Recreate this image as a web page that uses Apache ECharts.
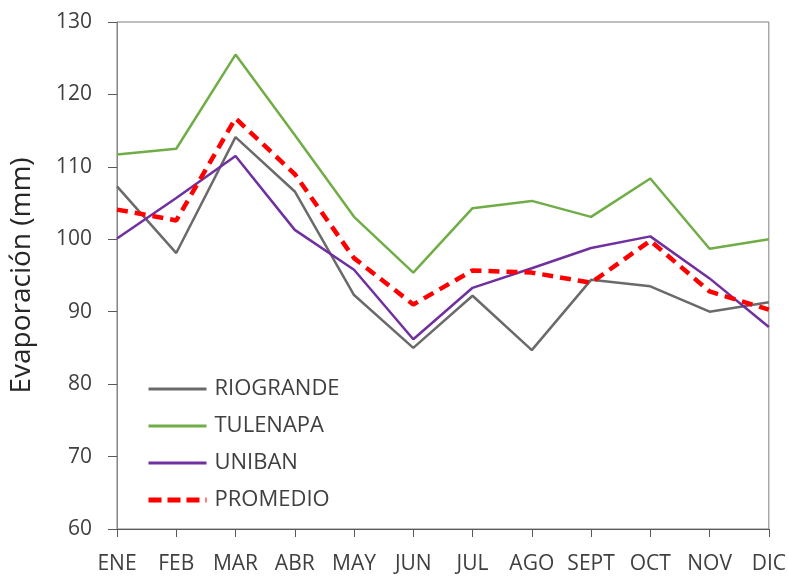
<!DOCTYPE html>
<html>
<head>
<meta charset="utf-8">
<script src="https://cdn.jsdelivr.net/npm/echarts@6/dist/echarts.min.js"></script>
<style>
  html, body { margin: 0; padding: 0; background: #fff; }
  #chart { width: 789px; height: 576px; }
</style>
</head>
<body>
<div id="chart"></div>
<script>
// meses
var meses = ['ENE', 'FEB', 'MAR', 'ABR', 'MAY', 'JUN', 'JUL', 'AGO', 'SEPT', 'OCT', 'NOV', 'DIC'];

// evaporacion (mm) por estacion
var riogrande = [107.3, 98.1, 114.1, 106.6, 92.3, 85.0, 92.2, 84.7, 94.4, 93.5, 90.0, 91.3];
var tulenapa  = [111.7, 112.5, 125.5, 114.4, 103.1, 95.4, 104.3, 105.3, 103.1, 108.4, 98.7, 100.0];
var uniban    = [100.1, 105.7, 111.5, 101.3, 95.8, 86.2, 93.3, 96.0, 98.8, 100.4, 94.6, 87.9];
var promedio  = [104.1, 102.6, 116.7, 109.0, 97.4, 91.0, 95.7, 95.4, 94.0, 99.8, 92.8, 90.3];

var yTicks = { min: 60, max: 130, interval: 10 };

var fuente = '"Open Sans", "Noto Sans", sans-serif';
var myChart = echarts.init(document.getElementById('chart'));

function linea(nombre, datos, color, ancho, tipo) {
  return {
    name: nombre,
    type: 'line',
    data: datos,
    symbol: 'none',
    lineStyle: { color: color, width: ancho, type: tipo || 'solid' },
    itemStyle: { color: color },
    emphasis: { disabled: true }
  };
}

var option = {
  animation: false,
  grid: {
    left: 115, right: 20, top: 22, bottom: 47,
    show: true, borderColor: '#7f7f7f', borderWidth: 1
  },
  legend: {
    orient: 'vertical',
    left: 146,
    top: 378,
    padding: 0,
    itemWidth: 58,
    itemHeight: 14,
    itemGap: 15,
    itemStyle: { opacity: 0 },
    textStyle: { fontFamily: fuente, fontSize: 22, lineHeight: 22, color: '#404040', padding: [0, 0, 0, 3] },
    data: [
      { name: 'RIOGRANDE', lineStyle: { width: 3 } },
      { name: 'TULENAPA', lineStyle: { width: 3 } },
      { name: 'UNIBAN', lineStyle: { width: 3 } },
      { name: 'PROMEDIO', lineStyle: { width: 5, type: [13, 6] } }
    ]
  },
  xAxis: {
    type: 'category',
    data: meses,
    boundaryGap: false,
    axisLine: { lineStyle: { color: '#595959', width: 1 } },
    axisTick: { show: true, length: 8, lineStyle: { color: '#595959' } },
    axisLabel: { fontFamily: fuente, fontSize: 21, color: '#404040', margin: 25, interval: 0 },
    splitLine: { show: false }
  },
  yAxis: {
    type: 'value',
    min: yTicks.min,
    max: yTicks.max,
    interval: yTicks.interval,
    name: 'Evaporación (mm)',
    nameLocation: 'middle',
    nameGap: 81,
    nameTextStyle: { fontFamily: fuente, fontSize: 28, color: '#262626' },
    axisLine: { show: true, lineStyle: { color: '#868686', width: 1 } },
    axisTick: { show: true, length: 9, lineStyle: { color: '#595959' } },
    axisLabel: { fontFamily: fuente, fontSize: 21, color: '#404040', margin: 25 },
    splitLine: { show: false }
  },
  series: [
    linea('RIOGRANDE', riogrande, '#6a6a6a', 2.5),
    linea('TULENAPA', tulenapa, '#70ad47', 2.5),
    linea('UNIBAN', uniban, '#7030a0', 2.5),
    linea('PROMEDIO', promedio, '#ff0000', 4.5, [11, 7])
  ]
};

myChart.setOption(option);
</script>
</body>
</html>
